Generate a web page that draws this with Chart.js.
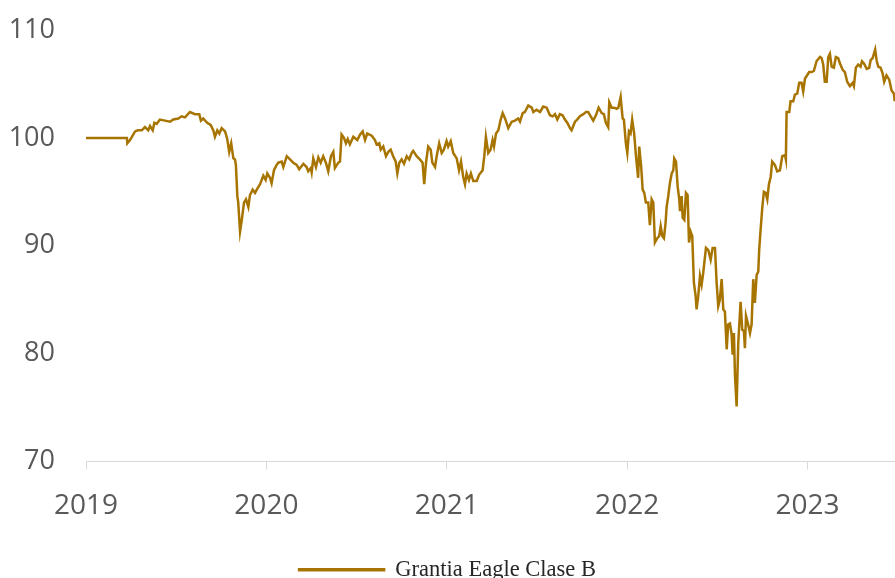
<!DOCTYPE html>
<html lang="es">
<head>
<meta charset="utf-8">
<title>Grantia Eagle Clase B</title>
<script src="https://cdn.jsdelivr.net/npm/chart.js@4.4.1/dist/chart.umd.min.js"></script>
<style>
    html, body { margin: 0; padding: 0; background: #ffffff; overflow: hidden; }
    #grafico { display: block; }
</style>
</head>
<body>
<canvas id="grafico" width="895" height="591"></canvas>
<script>
// Serie: fecha en años decimales y valor base 100
const fechas = [
    2019.000, 2019.227, 2019.229, 2019.244, 2019.272, 2019.288, 2019.309, 2019.327, 2019.345, 2019.355,
    2019.370, 2019.379, 2019.392, 2019.410, 2019.438, 2019.466, 2019.484, 2019.512, 2019.530, 2019.549,
    2019.576, 2019.604, 2019.628, 2019.637, 2019.650, 2019.672, 2019.691, 2019.706, 2019.715, 2019.728,
    2019.739, 2019.752, 2019.771, 2019.783, 2019.794, 2019.805, 2019.817, 2019.826, 2019.831, 2019.839,
    2019.844, 2019.854, 2019.863, 2019.876, 2019.887, 2019.900, 2019.909, 2019.924, 2019.937, 2019.950,
    2019.965, 2019.983, 2019.996, 2020.005, 2020.020, 2020.029, 2020.042, 2020.057, 2020.066, 2020.085,
    2020.094, 2020.113, 2020.131, 2020.149, 2020.168, 2020.182, 2020.205, 2020.223, 2020.232, 2020.246,
    2020.251, 2020.260, 2020.275, 2020.288, 2020.301, 2020.315, 2020.330, 2020.343, 2020.358, 2020.371,
    2020.380, 2020.399, 2020.408, 2020.417, 2020.430, 2020.441, 2020.451, 2020.463, 2020.482, 2020.504,
    2020.519, 2020.534, 2020.547, 2020.559, 2020.584, 2020.602, 2020.611, 2020.626, 2020.634, 2020.648,
    2020.663, 2020.676, 2020.689, 2020.703, 2020.717, 2020.726, 2020.737, 2020.750, 2020.763, 2020.778,
    2020.792, 2020.805, 2020.814, 2020.833, 2020.851, 2020.866, 2020.875, 2020.885, 2020.897, 2020.911,
    2020.920, 2020.935, 2020.944, 2020.958, 2020.972, 2020.984, 2020.999, 2021.008, 2021.022, 2021.036,
    2021.055, 2021.068, 2021.079, 2021.091, 2021.101, 2021.110, 2021.123, 2021.134, 2021.147, 2021.166,
    2021.180, 2021.199, 2021.208, 2021.217, 2021.230, 2021.243, 2021.254, 2021.262, 2021.273, 2021.286,
    2021.299, 2021.310, 2021.323, 2021.341, 2021.360, 2021.378, 2021.396, 2021.406, 2021.421, 2021.433,
    2021.452, 2021.471, 2021.480, 2021.498, 2021.517, 2021.535, 2021.554, 2021.572, 2021.587, 2021.600,
    2021.613, 2021.627, 2021.642, 2021.655, 2021.668, 2021.683, 2021.692, 2021.711, 2021.723, 2021.738,
    2021.757, 2021.772, 2021.784, 2021.798, 2021.812, 2021.827, 2021.842, 2021.859, 2021.871, 2021.882,
    2021.895, 2021.901, 2021.914, 2021.927, 2021.942, 2021.951, 2021.964, 2021.975, 2021.982, 2021.993,
    2022.001, 2022.010, 2022.019, 2022.028, 2022.039, 2022.049, 2022.061, 2022.067, 2022.078, 2022.086,
    2022.095, 2022.104, 2022.117, 2022.126, 2022.136, 2022.145, 2022.154, 2022.167, 2022.178, 2022.186,
    2022.195, 2022.204, 2022.213, 2022.219, 2022.228, 2022.237, 2022.247, 2022.256, 2022.261, 2022.271,
    2022.280, 2022.289, 2022.293, 2022.302, 2022.308, 2022.317, 2022.326, 2022.335, 2022.343, 2022.352,
    2022.361, 2022.370, 2022.380, 2022.385, 2022.394, 2022.404, 2022.413, 2022.422, 2022.437, 2022.450,
    2022.463, 2022.474, 2022.487, 2022.496, 2022.505, 2022.514, 2022.524, 2022.533, 2022.542, 2022.552,
    2022.560, 2022.570, 2022.579, 2022.585, 2022.592, 2022.598, 2022.607, 2022.616, 2022.629, 2022.638,
    2022.647, 2022.653, 2022.659, 2022.671, 2022.681, 2022.690, 2022.699, 2022.708, 2022.718, 2022.727,
    2022.732, 2022.740, 2022.749, 2022.758, 2022.768, 2022.777, 2022.786, 2022.796, 2022.804, 2022.819,
    2022.832, 2022.847, 2022.860, 2022.875, 2022.880, 2022.884, 2022.899, 2022.906, 2022.921, 2022.930,
    2022.943, 2022.954, 2022.967, 2022.976, 2022.986, 2022.998, 2023.009, 2023.023, 2023.035, 2023.050,
    2023.069, 2023.078, 2023.087, 2023.096, 2023.106, 2023.115, 2023.124, 2023.134, 2023.146, 2023.157,
    2023.170, 2023.180, 2023.195, 2023.207, 2023.220, 2023.235, 2023.250, 2023.257, 2023.268, 2023.281,
    2023.294, 2023.302, 2023.313, 2023.328, 2023.342, 2023.350, 2023.361, 2023.368, 2023.375, 2023.383,
    2023.392, 2023.405, 2023.416, 2023.425, 2023.438, 2023.453, 2023.466, 2023.479, 2023.483
];

const valores = [
    100.0, 100.0, 99.5, 99.8, 100.6, 100.7, 100.7, 101.0, 100.7, 101.1,
    100.7, 101.4, 101.3, 101.7, 101.6, 101.5, 101.7, 101.8, 102.0, 101.9,
    102.4, 102.2, 102.2, 101.6, 101.8, 101.4, 101.2, 100.7, 100.1, 100.7,
    100.4, 100.9, 100.6, 99.9, 98.7, 99.5, 98.1, 98.0, 97.5, 94.6,
    94.0, 91.3, 92.3, 94.0, 94.3, 93.6, 94.7, 95.2, 94.9, 95.3,
    95.7, 96.5, 96.1, 96.7, 96.3, 95.8, 97.0, 97.5, 97.7, 97.8,
    97.3, 98.3, 98.0, 97.7, 97.5, 97.1, 97.6, 97.3, 96.9, 97.2,
    96.8, 98.1, 97.3, 98.2, 97.7, 98.3, 97.7, 96.9, 98.3, 98.7,
    97.2, 97.7, 97.8, 100.3, 100.0, 99.5, 99.9, 99.4, 100.1, 99.8,
    100.3, 100.6, 99.8, 100.4, 100.2, 99.8, 99.4, 99.5, 98.9, 99.2,
    98.3, 98.7, 98.9, 98.3, 97.8, 96.7, 97.7, 98.0, 97.6, 98.3,
    98.0, 98.6, 98.8, 98.3, 98.0, 97.7, 95.7, 97.7, 99.2, 98.9,
    97.7, 97.3, 98.3, 99.5, 98.6, 98.9, 99.7, 99.2, 99.7, 98.6,
    98.1, 97.0, 97.8, 96.4, 95.7, 96.7, 96.1, 96.7, 96.0, 96.0,
    96.6, 97.0, 98.3, 100.1, 98.6, 98.9, 99.8, 99.2, 100.4, 100.7,
    101.7, 102.3, 101.8, 100.9, 101.5, 101.6, 101.8, 101.5, 102.3, 102.4,
    103.0, 102.8, 102.4, 102.6, 102.4, 102.9, 102.8, 102.1, 102.0, 102.2,
    101.7, 102.2, 102.1, 101.7, 101.4, 100.9, 100.7, 101.5, 101.7, 102.0,
    102.2, 102.4, 102.4, 102.0, 101.6, 102.1, 102.8, 102.3, 102.2, 101.4,
    101.0, 103.3, 102.8, 102.8, 102.7, 102.8, 103.8, 101.8, 101.7, 99.5,
    98.6, 100.6, 100.4, 101.7, 100.4, 98.3, 96.3, 99.2, 97.3, 95.2,
    94.9, 94.0, 94.0, 91.9, 94.3, 94.0, 90.3, 90.7, 90.9, 91.8,
    90.9, 90.7, 92.1, 93.6, 94.6, 95.8, 96.7, 97.0, 98.1, 97.8,
    95.5, 94.3, 93.2, 94.6, 92.6, 92.4, 94.9, 94.7, 90.3, 91.3,
    90.9, 86.6, 85.3, 84.1, 85.3, 87.2, 86.4, 87.5, 89.8, 89.6,
    88.7, 89.8, 89.8, 86.6, 84.4, 85.0, 86.9, 84.1, 83.9, 80.4,
    82.7, 82.8, 81.8, 79.9, 81.9, 77.9, 75.1, 81.0, 84.8, 82.2,
    82.1, 80.5, 83.5, 82.7, 81.9, 82.7, 86.9, 84.7, 87.3, 87.6,
    89.6, 91.5, 93.5, 95.0, 94.9, 94.3, 95.7, 96.4, 97.8, 97.5,
    96.9, 97.0, 98.3, 98.4, 98.0, 102.4, 102.4, 103.4, 103.4, 104.0,
    104.1, 105.1, 105.1, 104.3, 105.5, 105.8, 106.1, 106.1, 106.2, 107.1,
    107.5, 107.4, 106.8, 105.2, 105.2, 107.5, 107.8, 106.6, 106.5, 107.5,
    107.4, 106.9, 106.3, 106.1, 105.2, 104.8, 105.1, 104.8, 106.5, 106.8,
    106.6, 107.1, 106.9, 106.4, 106.5, 107.2, 107.4, 107.8, 108.2, 107.2,
    106.6, 106.5, 106.0, 105.2, 105.8, 105.4, 104.4, 104.1, 103.4
];

// Etiquetas de los ejes
const anios = [2019, 2020, 2021, 2022, 2023];
const ticksY = [70, 80, 90, 100, 110];
const nombreSerie = 'Grantia Eagle Clase B';

(function () {
    const colorLinea = '#A87400';
    const colorTexto = '#595959';
    const colorEje = '#D9D9D9';

    const puntos = fechas.map((f, i) => ({ x: f, y: valores[i] }));

    const ctx = document.getElementById('grafico').getContext('2d');
    new Chart(ctx, {
        type: 'line',
        data: {
            datasets: [{
                label: nombreSerie,
                data: puntos,
                borderColor: colorLinea,
                backgroundColor: colorLinea,
                borderWidth: 2.5,
                pointRadius: 0,
                tension: 0
            }]
        },
        options: {
            responsive: false,
            animation: false,
            layout: {
                padding: { top: 30, right: 0, bottom: 0, left: 0 }
            },
            plugins: {
                legend: {
                    position: 'bottom',
                    labels: {
                        boxWidth: 85,
                        boxHeight: 1,
                        padding: 10,
                        color: '#262626',
                        font: { family: 'Liberation Serif', size: 22.5 }
                    }
                },
                tooltip: { enabled: false }
            },
            scales: {
                x: {
                    type: 'linear',
                    min: anios[0],
                    max: 2023.485,
                    afterBuildTicks: function (scale) {
                        scale.ticks = anios.map(a => ({ value: a }));
                    },
                    afterFit: function (scale) {
                        scale.height = 87;
                    },
                    ticks: {
                        padding: 20,
                        color: colorTexto,
                        font: { family: 'Open Sans', size: 28 },
                        callback: v => String(v)
                    },
                    grid: {
                        drawOnChartArea: false,
                        drawTicks: true,
                        tickLength: 8,
                        color: colorEje
                    },
                    border: { display: true, color: colorEje, width: 1 }
                },
                y: {
                    min: ticksY[0],
                    max: ticksY[ticksY.length - 1],
                    afterBuildTicks: function (scale) {
                        scale.ticks = ticksY.map(v => ({ value: v }));
                    },
                    afterFit: function (scale) {
                        scale.width = 86;
                        // el padding de las etiquetas no debe empujar el área hacia abajo
                        scale.paddingTop = 0;
                        scale.paddingBottom = 0;
                    },
                    ticks: {
                        padding: 31,
                        color: colorTexto,
                        font: { family: 'Open Sans', size: 27 },
                        callback: v => String(v)
                    },
                    grid: { display: false, drawTicks: false },
                    border: { display: false }
                }
            }
        }
    });
})();
</script>
</body>
</html>
